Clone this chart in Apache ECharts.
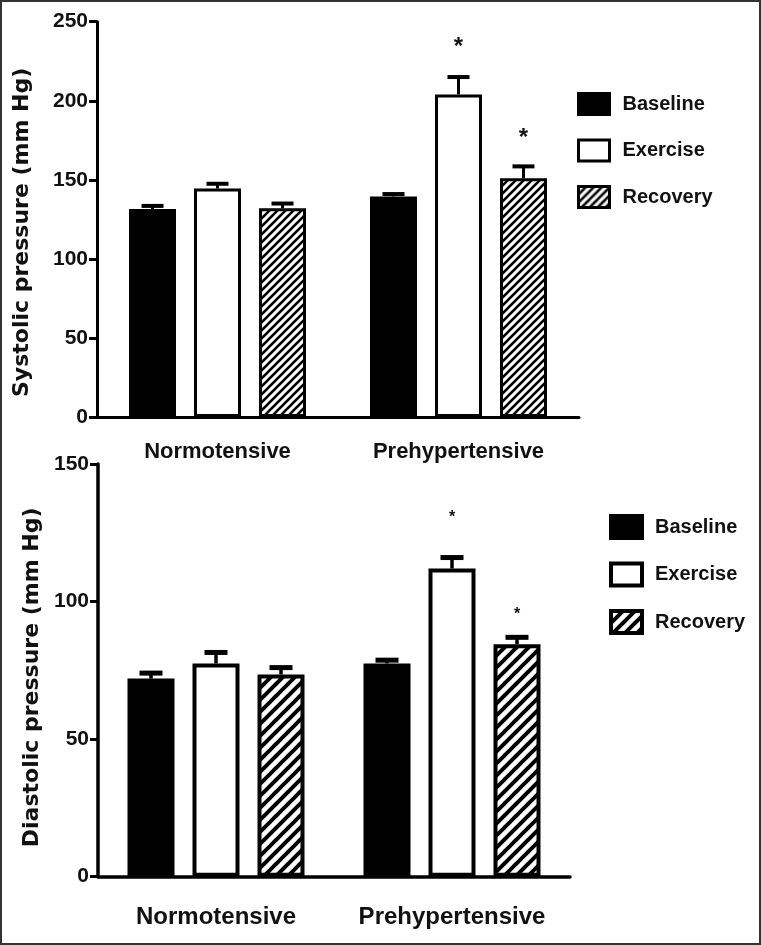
<!DOCTYPE html>
<html>
<head>
<meta charset="utf-8">
<script src="https://cdn.jsdelivr.net/npm/echarts@6/dist/echarts.min.js"></script>
<style>
  html, body { margin: 0; padding: 0; background: #fff; }
  #chart { width: 761px; height: 945px; }
</style>
</head>
<body>
<div id="chart"></div>
<script>
// ---------------- data ----------------
const categories = ['Normotensive', 'Prehypertensive'];
const groups = ['Baseline', 'Exercise', 'Recovery'];

// Systolic (mm Hg)
const sysBaseline = [131.5, 139.5];
const sysExercise = [144.5, 204];
const sysRecovery = [132, 151];
const sysBaselineErr = [2, 1.5];
const sysExerciseErr = [3, 11];
const sysRecoveryErr = [3, 7.5];
const sysExerciseStar = [null, 236.5];
const sysRecoveryStar = [null, 178.5];
const sysTicks = { min: 0, max: 250, interval: 50 };

// Diastolic (mm Hg)
const diaBaseline = [72, 77.5];
const diaExercise = [77.5, 112];
const diaRecovery = [73.5, 84.5];
const diaBaselineErr = [2, 1.2];
const diaExerciseErr = [4, 4];
const diaRecoveryErr = [2.5, 2.5];
const diaExerciseStar = [null, 131.5];
const diaRecoveryStar = [null, 96.3];
const diaTicks = { min: 0, max: 150, interval: 50 };

// ---------------- styles ----------------
const FONT = 'Liberation Sans, Arial, sans-serif';
const BAR_W = 47;
const PITCH = 65;               // bar center spacing inside a group (px)
const GAP_PCT = ((PITCH - BAR_W) / BAR_W * 100).toFixed(1) + '%';

function makeHatch(size, lw) {
  const c = document.createElement('canvas');
  c.width = size; c.height = size;
  const g = c.getContext('2d');
  g.fillStyle = '#fff'; g.fillRect(0, 0, size, size);
  g.strokeStyle = '#000'; g.lineWidth = lw; g.lineCap = 'square';
  g.beginPath();
  for (let k = -1; k <= 1; k++) {
    g.moveTo(k * size, size);
    g.lineTo(k * size + size, 0);
  }
  g.stroke();
  return c;
}
const hatchTop = makeHatch(8, 2.6);
const hatchBot = makeHatch(12, 4);

function styles(bw, hatch) {
  return [
    { color: '#000', borderColor: '#000', borderWidth: bw },
    { color: '#fff', borderColor: '#000', borderWidth: bw },
    { color: { image: hatch, repeat: 'repeat' }, borderColor: '#000', borderWidth: bw }
  ];
}
const topStyles = styles(3, hatchTop);
const botStyles = styles(4, hatchBot);

function barSeries(name, data, idx, style) {
  return {
    type: 'bar', name: name, data: data,
    xAxisIndex: idx, yAxisIndex: idx,
    barWidth: BAR_W, barGap: GAP_PCT,
    itemStyle: style,
    emphasis: { disabled: true },
    silent: true
  };
}

function errData(means, errs) {
  const out = [];
  means.forEach((m, k) => m.forEach((v, c) => out.push([c, k, v, errs[k][c]])));
  return out;
}
function starData(stars) {
  const out = [];
  stars.forEach((s, k) => s.forEach((v, c) => { if (v != null) out.push([c, k, v]); }));
  return out;
}

function errSeries(idx, data, lw, capW, capLw) {
  return {
    type: 'custom', xAxisIndex: idx, yAxisIndex: idx, silent: true, clip: false,
    data: data, encode: { x: 0, y: 2 }, z: 3,
    renderItem: function (params, api) {
      const c = api.value(0), k = api.value(1), m = api.value(2), e = api.value(3);
      const base = api.coord([c, m]);
      const top = api.coord([c, m + e]);
      const x = base[0] + (k - 1) * PITCH;
      return {
        type: 'group',
        children: [
          { type: 'line', shape: { x1: x, y1: base[1], x2: x, y2: top[1] },
            style: { stroke: '#000', lineWidth: lw } },
          { type: 'line', shape: { x1: x - capW / 2, y1: top[1], x2: x + capW / 2, y2: top[1] },
            style: { stroke: '#000', lineWidth: capLw } }
        ]
      };
    }
  };
}

function starSeries(idx, data, fs, dy) {
  return {
    type: 'custom', xAxisIndex: idx, yAxisIndex: idx, silent: true, clip: false,
    data: data, encode: { x: 0, y: 2 }, z: 3,
    renderItem: function (params, api) {
      const c = api.value(0), k = api.value(1), v = api.value(2);
      const p = api.coord([c, v]);
      return {
        type: 'text',
        style: {
          text: '*', x: p[0] + (k - 1) * PITCH, y: p[1] + dy,
          align: 'center', verticalAlign: 'middle',
          font: 'bold ' + fs + 'px ' + FONT, fill: '#111'
        }
      };
    }
  };
}

function xAxis(idx, fs, margin) {
  return {
    type: 'category', gridIndex: idx, data: categories,
    axisLine: { lineStyle: { color: '#000', width: idx === 0 ? 3 : 3.5 } },
    axisTick: { alignWithLabel: true, length: 8, lineStyle: { color: '#000', width: 3 } },
    axisLabel: { interval: 0, fontSize: fs, fontWeight: 'bold', color: '#111', fontFamily: FONT, margin: margin },
    splitLine: { show: false }
  };
}
function yAxis(idx, ticks, name, gap, shift) {
  return {
    type: 'value', gridIndex: idx, min: ticks.min, max: ticks.max, interval: ticks.interval,
    axisLine: { show: true, lineStyle: { color: '#000', width: idx === 0 ? 3 : 3.5 } },
    axisTick: { show: true, length: 8, lineStyle: { color: '#000', width: 3 } },
    axisLabel: { fontSize: 21, fontWeight: 'bold', color: '#111', fontFamily: FONT, margin: 9 },
    splitLine: { show: false },
    name: name, nameLocation: 'middle', nameGap: gap,
    nameTextStyle: { fontSize: 22, fontWeight: 'bold', color: '#111', fontFamily: 'DejaVu Sans, sans-serif',
                     padding: [0, shift, 0, 0] }
  };
}

function legend(left, top, hatch, bw, ih, gap) {
  const st = styles(bw, hatch);
  return {
    orient: 'vertical', left: left, top: top, padding: 0,
    itemWidth: 31, itemHeight: ih, itemGap: gap, selectedMode: false,
    textStyle: { fontSize: 20, fontWeight: 'bold', color: '#111', fontFamily: FONT, padding: [0, 0, 0, 8] },
    data: groups.map((g, i) => ({ name: g, icon: 'rect', itemStyle: st[i] }))
  };
}

const chart = echarts.init(document.getElementById('chart'), null, { renderer: 'canvas' });
chart.setOption({
  animation: false,
  backgroundColor: '#fff',
  graphic: [{
    type: 'rect', silent: true, z: 100,
    shape: { x: 1, y: 1, width: 759, height: 943 },
    style: { fill: 'none', stroke: '#333', lineWidth: 2 }
  }],
  grid: [
    { left: 97, top: 21.7, width: 482, height: 395.3 },
    { left: 98, top: 464, width: 472, height: 412.7 }
  ],
  legend: [
    legend(577, 92, hatchTop, 3, 21, 22.5),
    legend(609, 514, hatchBot, 4, 22, 21.5)
  ],
  xAxis: [xAxis(0, 22, 24), xAxis(1, 24, 29)],
  yAxis: [
    yAxis(0, sysTicks, 'Systolic pressure (mm Hg)', 64, 26),
    yAxis(1, diaTicks, 'Diastolic pressure (mm Hg)', 55, 14)
  ],
  series: [
    barSeries(groups[0], sysBaseline, 0, topStyles[0]),
    barSeries(groups[1], sysExercise, 0, topStyles[1]),
    barSeries(groups[2], sysRecovery, 0, topStyles[2]),
    barSeries(groups[0], diaBaseline, 1, botStyles[0]),
    barSeries(groups[1], diaExercise, 1, botStyles[1]),
    barSeries(groups[2], diaRecovery, 1, botStyles[2]),
    errSeries(0, errData([sysBaseline, sysExercise, sysRecovery], [sysBaselineErr, sysExerciseErr, sysRecoveryErr]), 3, 22, 4),
    errSeries(1, errData([diaBaseline, diaExercise, diaRecovery], [diaBaselineErr, diaExerciseErr, diaRecoveryErr]), 3.5, 23, 5),
    starSeries(0, starData([[null, null], sysExerciseStar, sysRecoveryStar]), 24, 4),
    starSeries(1, starData([[null, null], diaExerciseStar, diaRecoveryStar]), 16, 3)
  ]
});
</script>
</body>
</html>
